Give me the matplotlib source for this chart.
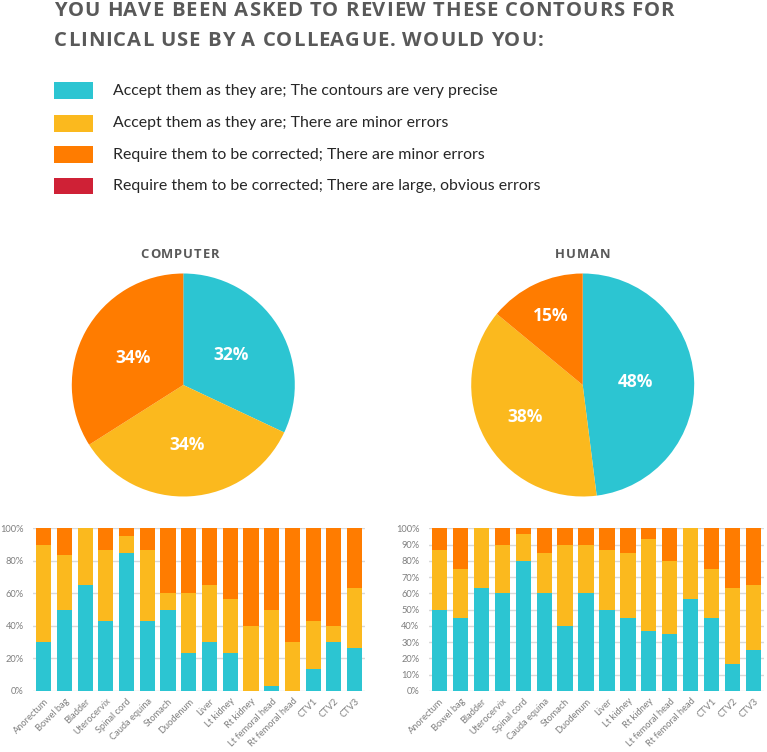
import matplotlib
matplotlib.use("Agg")
import matplotlib.pyplot as plt
from matplotlib.patches import Rectangle
from matplotlib.font_manager import FontProperties, findfont
from matplotlib.ft2font import FT2Font
import numpy as np

# ---------------- data ----------------
title_lines = ["YOU HAVE BEEN ASKED TO REVIEW THESE CONTOURS FOR",
               "CLINICAL USE BY A COLLEAGUE. WOULD YOU:"]
legend_labels = ["Accept them as they are; The contours are very precise",
                 "Accept them as they are; There are minor errors",
                 "Require them to be corrected; There are minor errors",
                 "Require them to be corrected; There are large, obvious errors"]
colors = ["#2CC5D2", "#FBB91E", "#FF7C00", "#CF2136"]

pie_titles = ["COMPUTER", "HUMAN"]
computer_pie = [32, 34, 34]
computer_pie_labels = ["32%", "34%", "34%"]
human_pie = [48, 38, 14]
human_pie_labels = ["48%", "38%", "15%"]

categories = ["Anorectum", "Bowel bag", "Bladder", "Uterocervix", "Spinal cord",
              "Cauda equina", "Stomach", "Duodenum", "Liver", "Lt kidney",
              "Rt kidney", "Lt femoral head", "Rt femoral head", "CTV1", "CTV2", "CTV3"]

computer_precise = [30, 50, 65, 43.3, 85, 43.3, 50, 23.3, 30, 23.3, 0, 3.3, 0, 13.3, 30, 26.7]
computer_minor_ok = [60, 33.3, 35, 43.3, 10, 43.3, 10, 36.7, 35, 33.3, 40, 46.7, 30, 30, 10, 36.7]
computer_correct = [10, 16.7, 0, 13.3, 5, 13.3, 40, 40, 35, 43.3, 60, 50, 70, 56.7, 60, 36.7]

human_precise = [50, 45, 63.3, 60, 80, 60, 40, 60, 50, 45, 36.7, 35, 56.7, 45, 16.7, 25]
human_minor_ok = [36.7, 30, 36.7, 30, 16.7, 25, 50, 30, 36.7, 40, 56.7, 45, 43.3, 30, 46.7, 40]
human_correct = [13.3, 25, 0, 10, 3.3, 15, 10, 10, 13.3, 15, 6.7, 20, 0, 25, 36.7, 35]

computer_yticks = [0, 20, 40, 60, 80, 100]
human_yticks = [0, 10, 20, 30, 40, 50, 60, 70, 80, 90, 100]

# ---------------- figure ----------------
W, H = 767, 752
DPI = 100
fig = plt.figure(figsize=(W / DPI, H / DPI), dpi=DPI)
fig.patch.set_facecolor("white")


def fx(px):
    return px / W


def fy(py):
    return 1 - py / H


TITLE_FONT = ["Open Sans", "DejaVu Sans"]
BODY_FONT = ["Lato", "DejaVu Sans"]


def advances(s, size, family, weight):
    fp = FontProperties(family=family, weight=weight)
    font = FT2Font(findfont(fp))
    font.set_size(size, DPI)
    out = []
    for c in s:
        g = font.load_char(ord(c))
        out.append(g.linearHoriAdvance / 65536.0)
    return out


def spaced_text(s, x0, y, size, spacing, color, family=TITLE_FONT, weight="bold",
                total_width=None):
    adv = advances(s, size, family[0], weight)
    if total_width is not None:
        spacing = (total_width - sum(adv)) / (len(s) - 1)
    x = x0
    for c, a in zip(s, adv):
        if c != " ":
            fig.text(fx(x + a / 2), fy(y), c, fontsize=size, fontweight=weight,
                     color=color, family=family, ha="center", va="center")
        x += a + spacing
    return spacing


# title
sp = spaced_text(title_lines[0], 54, 11.5, 14.6, 0, "#595959", total_width=620)
spaced_text(title_lines[1], 54, 40.5, 14.6, sp, "#595959")

# legend
legend_y = [90.7, 123.5, 154.5, 186.0]
for lab, col, yy in zip(legend_labels, colors, legend_y):
    fig.add_artist(Rectangle((fx(54), fy(yy + 8.3)), fx(38.5), 16.6 / H,
                             transform=fig.transFigure, facecolor=col,
                             edgecolor="none"))
    fig.text(fx(113), fy(yy), lab, fontsize=11.4, color="#262626",
             family=BODY_FONT, va="center", ha="left")

# pies
pie_specs = [(computer_pie, computer_pie_labels, 183.3, [0.51, 0.54, 0.51], 140.7, 78.6),
             (human_pie, human_pie_labels, 582.7, [0.47, 0.59, 0.68], 555.0, 55.0)]
R = 111.5
for (vals, labs, cx, dists, tx0, tw), ttl in zip(pie_specs, pie_titles):
    ax = fig.add_axes([fx(cx - R), fy(385 + R), 2 * R / W, 2 * R / H])
    ax.pie(vals, colors=colors[:3], startangle=90, counterclock=False,
           radius=1.0, wedgeprops=dict(linewidth=0))
    tot = sum(vals)
    ang0 = 90.0
    for v, lab, d in zip(vals, labs, dists):
        a = ang0 - 360 * v / tot / 2
        ang0 -= 360 * v / tot
        ax.text(d * np.cos(np.radians(a)), d * np.sin(np.radians(a)), lab,
                ha="center", va="center", color="white", fontsize=12.5,
                fontweight="bold", family=TITLE_FONT)
    ax.set_xlim(-1, 1)
    ax.set_ylim(-1, 1)
    ax.set_aspect("equal")
    ax.axis("off")
    spaced_text(ttl, tx0, 254, 9.4, 0, "#595959", total_width=tw)

# bar charts
bar_specs = [
    (computer_precise, computer_minor_ok, computer_correct, computer_yticks, 33.3, 331.7),
    (human_precise, human_minor_ok, human_correct, human_yticks, 429.0, 335.0),
]
for prec, minor, corr, yt, left_px, width_px in bar_specs:
    ax = fig.add_axes([fx(left_px), fy(691), width_px / W, (691 - 528.3) / H])
    x = list(range(len(categories)))
    bottom2 = [a + b for a, b in zip(prec, minor)]
    ax.bar(x, prec, width=0.73, color=colors[0], linewidth=0, zorder=3)
    ax.bar(x, minor, width=0.73, bottom=prec, color=colors[1], linewidth=0, zorder=3)
    ax.bar(x, corr, width=0.73, bottom=bottom2, color=colors[2], linewidth=0, zorder=3)
    ax.set_xlim(-0.5, len(categories) - 0.5)
    ax.set_ylim(0, 100)
    ax.set_yticks(yt)
    ax.set_yticklabels([f"{v}%" for v in yt])
    ax.yaxis.grid(True, color="#D9D9D9", linewidth=1.0, zorder=0)
    ax.set_axisbelow(True)
    for s in ax.spines.values():
        s.set_visible(False)
    ax.tick_params(axis="both", length=0, labelsize=6.7, labelcolor="#7F7F7F", pad=7)
    ax.set_xticks(x)
    ax.set_xticklabels(categories, rotation=45, ha="right", rotation_mode="anchor",
                       family=BODY_FONT)
    for lbl in ax.get_yticklabels():
        lbl.set_family(BODY_FONT)
    ax.tick_params(axis="x", pad=4)

fig.savefig("out.png", dpi=DPI, facecolor="white")
